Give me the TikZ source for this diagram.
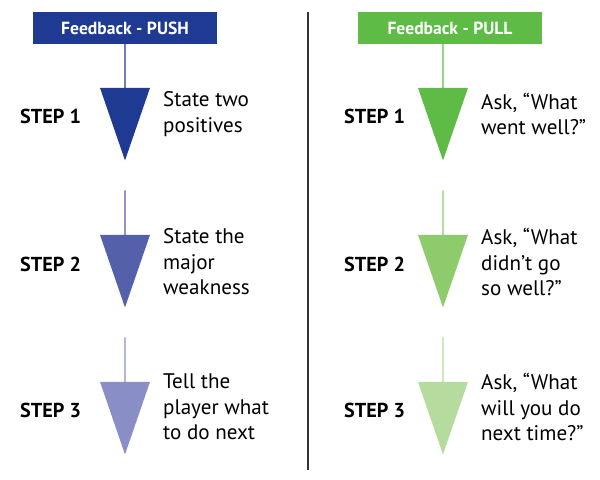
\documentclass[tikz,border=0pt]{standalone}
\usepackage{fontspec}
\setmainfont{PT Sans}
\usetikzlibrary{shapes.arrows,positioning}
\definecolor{blueA}{HTML}{1F3A93}
\definecolor{blueB}{HTML}{5560AA}
\definecolor{blueC}{HTML}{8A8EC6}
\definecolor{greenA}{HTML}{5DBB46}
\definecolor{greenB}{HTML}{8DCB6C}
\definecolor{greenC}{HTML}{B5DC9E}
\begin{document}
\begin{tikzpicture}[x=0.02cm,y=-0.02cm]
\tikzset{every node/.style={font=\fontsize{11}{13}\selectfont},
  head/.style={text=white,font=\bfseries\fontsize{10}{12}\selectfont,minimum width=3.7cm,minimum height=0.64cm,inner sep=0},
  steplbl/.style={font=\bfseries\fontsize{11.5}{13}\selectfont,anchor=west},
  txt/.style={anchor=west,align=left,font=\fontsize{12}{14.5}\selectfont},
  arr/.style={single arrow,rotate=-90,minimum height=2.34cm,minimum width=1.0cm,single arrow head extend=0.26cm,single arrow tip angle=38,inner sep=0,draw=none}}
\useasboundingbox (0,0) rectangle (600,480);

% Headers
\node[head,fill=blueA] (pushhead) at (125,28) {Feedback - PUSH};
\node[head,fill=greenA] (pullhead) at (450,28) {Feedback - PULL};

% Divider
\coordinate (divtop) at (308,12);
\coordinate (divbot) at (308,470);
\draw[line width=1pt,black!80] (divtop) -- (divbot);

% Push side
\node[arr,fill=blueA] (pa1) at (125,101) {};
\node[arr,fill=blueB] (pa2) at (125,248) {};
\node[arr,fill=blueC] (pa3) at (125,395) {};
\node[steplbl] (ps1) at (14,116) {STEP 1};
\node[steplbl] (ps2) at (14,264) {STEP 2};
\node[steplbl] (ps3) at (14,410) {STEP 3};
\node[txt] (pt1) at (157,114) {State two\\positives};
\node[txt] (pt2) at (157,262) {State the\\major\\weakness};
\node[txt] (pt3) at (157,407) {Tell the\\player what\\to do next};

% Pull side
\node[arr,fill=greenA] (la1) at (443,101) {};
\node[arr,fill=greenB] (la2) at (443,248) {};
\node[arr,fill=greenC] (la3) at (443,395) {};
\node[steplbl] (ls1) at (338,116) {STEP 1};
\node[steplbl] (ls2) at (338,264) {STEP 2};
\node[steplbl] (ls3) at (338,410) {STEP 3};
\node[txt] (lt1) at (475,114) {Ask, “What\\went well?”};
\node[txt] (lt2) at (475,262) {Ask, “What\\didn’t go\\so well?”};
\node[txt] (lt3) at (475,407) {Ask, “What\\will you do\\next time?”};
\end{tikzpicture}
\end{document}
